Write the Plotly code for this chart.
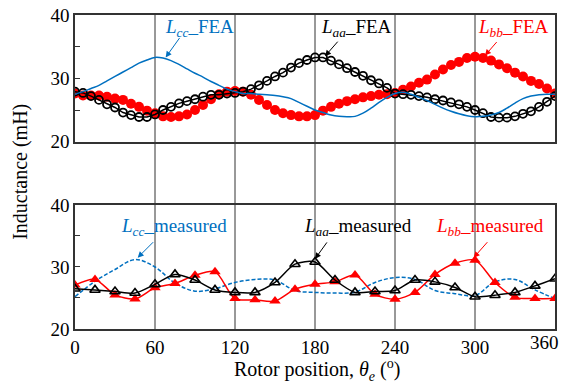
import plotly.graph_objects as go

# ---------------- data ----------------
theta_fea = list(range(0, 361, 6))
laa_fea = [27.9, 27.7, 27.2, 26.6, 25.9, 25.4, 24.6, 24.2, 23.9, 23.9, 24.3,
           25.0, 25.5, 26.05, 26.4, 26.7, 27.1, 27.4, 27.4, 27.6, 27.7,
           27.9, 28.3, 28.9, 29.6, 30.3, 30.9, 31.7, 32.4, 32.9, 33.3,
           33.3, 32.8, 32.2, 31.6, 31.0, 30.4, 29.7, 29.2, 28.5, 27.6,
           27.5, 27.4, 27.2, 27.0, 26.7, 26.5, 26.2, 25.9, 25.5, 25.0,
           24.5, 23.9, 23.8, 23.8, 24.0, 24.4, 24.8, 25.5, 26.3, 27.2, 27.8]
lbb_fea = [27.6, 27.3, 27.3, 27.3, 27.1, 26.8, 26.6, 26.0, 25.5, 24.9, 24.5,
           24.0, 23.9, 24.0, 24.3, 25.0, 25.8, 26.7, 27.5, 27.9, 28.0,
           27.9, 27.4, 26.6, 25.8, 25.0, 24.5, 24.2, 24.0, 24.0, 24.2,
           24.9, 25.5, 26.0, 26.4, 26.7, 27.0, 27.2, 27.4, 27.5, 27.7,
           28.2, 28.7, 29.3, 29.8, 30.6, 31.4, 32.1, 32.6, 33.2, 33.4,
           33.2, 32.8, 32.2, 31.6, 30.9, 30.3, 29.6, 29.1, 28.4, 27.6]
lcc_fea = [27.5, 27.9, 28.4, 28.9, 29.6, 30.3, 31.0, 31.7, 32.4, 32.9, 33.3,
           33.2, 32.8, 32.2, 31.5, 30.8, 30.2, 29.5, 28.9, 28.3, 27.9,
           27.6, 27.6, 27.5, 27.4, 27.3, 27.1, 26.8, 26.2, 25.6, 25.0,
           24.6, 24.2, 24.0, 23.95, 24.0, 24.5, 25.3, 26.2, 27.0, 27.6,
           27.8, 27.5, 27.0, 26.5, 25.9, 25.3, 24.8, 24.4, 24.1, 23.95,
           24.0, 24.2, 24.6, 25.3, 26.1, 26.8, 27.2, 27.4, 27.5, 27.5, 27.5]

theta_meas = list(range(0, 361, 15))
laa_meas = [26.5, 26.3, 26.05, 25.8, 27.2, 28.8, 27.9, 26.3, 25.9,
            25.9, 27.5, 30.45, 30.8, 27.9, 25.9, 26.05, 26.2,
            27.9, 27.6, 26.7, 25.2, 25.45, 25.9, 26.95, 28.1]
lbb_meas = [27.1, 28.0, 25.5, 24.85, 26.65, 27.35, 28.65, 29.25, 24.9,
            24.7, 24.5, 26.4, 27.2, 27.6, 28.7, 25.6, 24.8,
            25.9, 28.8, 30.6, 31.1, 27.5, 25.1, 24.9, 24.9]
lcc_meas = [25.2, 27.7, 29.6, 31.2, 30.0, 27.4, 26.1, 26.5, 27.5,
            28.0, 27.9, 26.2, 25.9, 25.8, 25.95, 27.5, 28.3,
            28.0, 26.2, 25.7, 25.4, 27.6, 28.0, 26.3, 24.9]

x_ticks = [0, 60, 120, 180, 240, 300, 360]
x_ticktext = ["0", "60", "120", "180", "240", "300", ""]   # last label drawn shifted to fit
last_x_label = "360"
y_ticks = [20, 25, 30, 35, 40]
y_ticktext = ["20", "", "30", "", "40"]

BLUE = "#0070C0"
RED = "#FF0000"
BLACK = "#000000"
FONT = "Liberation Serif"
TICK_SIZE = 19
ANN_SIZE = 19
TITLE_SIZE = 20

fig = go.Figure()

# ---------- top panel (FEA) ----------
fig.add_trace(go.Scatter(x=theta_fea, y=lbb_fea, mode="lines+markers",
                         line=dict(color=RED, width=1.5),
                         marker=dict(symbol="circle", size=10, color=RED),
                         xaxis="x", yaxis="y", showlegend=False))
fig.add_trace(go.Scatter(x=theta_fea, y=laa_fea, mode="lines+markers",
                         line=dict(color=BLACK, width=1.5),
                         marker=dict(symbol="circle-open", size=8, color=BLACK,
                                     line=dict(width=1.8)),
                         xaxis="x", yaxis="y", showlegend=False))
fig.add_trace(go.Scatter(x=theta_fea, y=lcc_fea, mode="lines",
                         line=dict(color=BLUE, width=1.5, shape="spline"),
                         xaxis="x", yaxis="y", showlegend=False))

# ---------- bottom panel (measured) ----------
fig.add_trace(go.Scatter(x=theta_meas, y=lcc_meas, mode="lines",
                         line=dict(color=BLUE, width=1.5, shape="spline", dash="4px,2px"),
                         xaxis="x2", yaxis="y2", showlegend=False))
fig.add_trace(go.Scatter(x=theta_meas, y=lbb_meas, mode="lines+markers",
                         line=dict(color=RED, width=1.5, shape="spline", smoothing=0.8),
                         marker=dict(symbol="triangle-up", size=10, color=RED),
                         xaxis="x2", yaxis="y2", showlegend=False))
fig.add_trace(go.Scatter(x=theta_meas, y=laa_meas, mode="lines+markers",
                         line=dict(color=BLACK, width=1.5, shape="spline", smoothing=0.8),
                         marker=dict(symbol="triangle-up-open", size=9, color=BLACK,
                                     line=dict(width=1.6)),
                         xaxis="x2", yaxis="y2", showlegend=False))

# vertical guide lines through both panels
for xv in x_ticks[1:-1]:
    fig.add_shape(type="line", xref="x", yref="paper", x0=xv, x1=xv, y0=0, y1=1,
                  line=dict(color="#333333", width=1), layer="below")

axis_common = dict(range=[0, 360], tickvals=x_ticks, ticktext=x_ticktext,
                   showgrid=False, zeroline=False,
                   showline=True, mirror=True, linecolor="#333333", linewidth=1.5,
                   ticks="", automargin=False,
                   tickfont=dict(family=FONT, size=TICK_SIZE, color="#000"))
yaxis_common = dict(range=[20, 40], tickvals=y_ticks, ticktext=y_ticktext,
                    showgrid=False, zeroline=False, showline=True, mirror=True,
                    linecolor="#333333", linewidth=1.5, ticks="inside", ticklen=5,
                    tickcolor="#333333", tickwidth=1.2, automargin=False,
                    tickfont=dict(family=FONT, size=TICK_SIZE, color="#000"))

ann = []
def label(x, y, text, color, yref):
    ann.append(dict(x=x, y=y, xref="x", yref=yref, text=text, showarrow=False,
                    font=dict(family=FONT, size=ANN_SIZE, color=color),
                    xanchor="center", yanchor="middle"))

def arrow(x, y, ax, ay, color, yref):
    ann.append(dict(x=x, y=y, xref="x", yref=yref, text="", showarrow=True,
                    ax=ax, ay=ay, arrowhead=2, arrowsize=1.2, arrowwidth=1,
                    arrowcolor=color))

label(93, 37.9, "<i>L</i><sub><i>cc</i></sub>_FEA", BLUE, "y")
label(211, 37.9, "<i>L</i><sub><i>aa</i></sub>_FEA", BLACK, "y")
label(328.5, 37.9, "<i>L</i><sub><i>bb</i></sub>_FEA", RED, "y")
arrow(68, 33.3, 15, -21, BLUE, "y")
arrow(187.5, 33.5, 14, -16, BLACK, "y")
arrow(307.5, 33.6, 13, -15, RED, "y")

label(74, 36.4, "<i>L</i><sub><i>cc</i></sub>_measured", BLUE, "y2")
label(212.5, 36.4, "<i>L</i><sub><i>aa</i></sub>_measured", BLACK, "y2")
label(311, 36.4, "<i>L</i><sub><i>bb</i></sub>_measured", RED, "y2")
arrow(47, 31.5, 17, -17, BLUE, "y2")
arrow(180, 31.3, 13, -18, BLACK, "y2")
arrow(299, 31.5, 15, -17, RED, "y2")

# last x tick label, nudged left so it stays inside the page
ann.append(dict(x=x_ticks[-1], y=0, xref="x2", yref="paper", text=last_x_label,
                showarrow=False, xanchor="right", yanchor="top", xshift=6, yshift=-1,
                font=dict(family=FONT, size=TICK_SIZE, color="#000")))

ann.append(dict(x=0.504, y=-0.13, xref="paper", yref="paper",
                text="Rotor position, <i>θ</i><sub><i>e</i></sub> (<sup>o</sup>)",
                showarrow=False, font=dict(family=FONT, size=TITLE_SIZE, color="#000"),
                xanchor="center", yanchor="middle"))
ann.append(dict(x=-0.115, y=0.5, xref="paper", yref="paper", text="Inductance (mH)",
                textangle=-90, showarrow=False,
                font=dict(family=FONT, size=TITLE_SIZE, color="#000"),
                xanchor="center", yanchor="middle"))

fig.update_layout(
    width=562, height=383,
    margin=dict(l=75, r=7, t=15, b=54),
    paper_bgcolor="white", plot_bgcolor="white",
    xaxis=dict(axis_common, domain=[0, 1], anchor="y", showticklabels=False),
    yaxis=dict(yaxis_common, domain=[0.5965, 1], anchor="x"),
    xaxis2=dict(axis_common, domain=[0, 1], anchor="y2", showticklabels=True),
    yaxis2=dict(yaxis_common, domain=[0, 0.395], anchor="x2"),
    annotations=ann,
)

fig.write_html("out.html", config={"displayModeBar": False},
               post_script="document.body.style.margin='0px';document.body.style.overflow='hidden';")
